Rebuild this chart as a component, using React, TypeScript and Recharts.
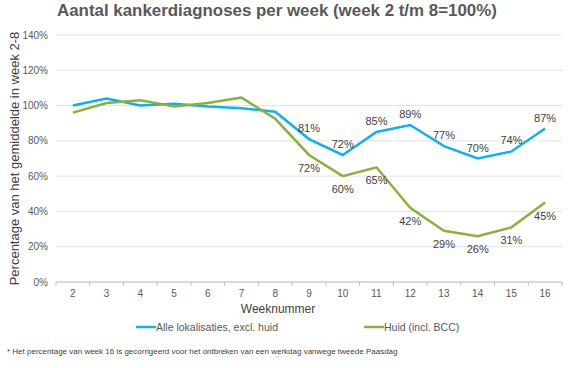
import React from 'react';
import { LineChart, Line, XAxis, YAxis, CartesianGrid, LabelList, Label } from 'recharts';

const weeks = [2, 3, 4, 5, 6, 7, 8, 9, 10, 11, 12, 13, 14, 15, 16];
const alleValues = [100, 104, 100, 101, 99.5, 98.5, 96.5, 81, 72, 85, 89, 77, 70, 74, 87];
const huidValues = [96, 101.5, 103, 99.5, 101.5, 104.5, 92.5, 72, 60, 65, 42, 29, 26, 31, 45];
const alleLabels = [null, null, null, null, null, null, null, '81%', '72%', '85%', '89%', '77%', '70%', '74%', '87%'];
const huidLabels = [null, null, null, null, null, null, null, '72%', '60%', '65%', '42%', '29%', '26%', '31%', '45%'];
const yTicks = [0, 20, 40, 60, 80, 100, 120, 140];

const seriesNames = { alle: 'Alle lokalisaties, excl. huid', huid: 'Huid (incl. BCC)' };
const BLUE = '#13b0e8';
const GREEN = '#8cb040';
const FONT = '"Liberation Sans", Arial, sans-serif';
const HALF_BAND = 506 / weeks.length / 2;

const data = weeks.map((w, i) => ({
  week: w,
  alle: alleValues[i],
  huid: huidValues[i],
  alleLabel: alleLabels[i],
  huidLabel: huidLabels[i],
}));

const renderLabel = (below: boolean) => (props: any) => {
  const { x, y, value } = props;
  if (value === null || value === undefined) return null;
  return (
    <text
      x={x}
      y={below ? y + 17 : y - 7}
      textAnchor="middle"
      fontSize={11}
      fontFamily={FONT}
      fill="#404040"
    >
      {value}
    </text>
  );
};

const XTick = (props: any) => {
  const { x, y, payload, index } = props;
  return (
    <g>
      <line x1={x - HALF_BAND} x2={x - HALF_BAND} y1={y} y2={y + 4} stroke="#bfbfbf" />
      {index === weeks.length - 1 && (
        <line x1={x + HALF_BAND} x2={x + HALF_BAND} y1={y} y2={y + 4} stroke="#bfbfbf" />
      )}
      <text x={x} y={y + 15} textAnchor="middle" fontSize={10} fontFamily={FONT} fill="#595959">
        {payload.value}
      </text>
    </g>
  );
};

export default function App() {
  return (
    <div style={{ position: 'absolute', left: 0, top: 0, width: 581, height: 368, background: '#fff', fontFamily: FONT }}>
      <div
        style={{
          position: 'absolute',
          left: 57,
          top: 1,
          fontSize: 16.9,
          fontWeight: 'bold',
          color: '#595959',
          whiteSpace: 'nowrap',
        }}
      >
        Aantal kankerdiagnoses per week (week 2 t/m 8=100%)
      </div>
      <LineChart
        width={581}
        height={368}
        data={data}
        margin={{ top: 35, right: 19, bottom: 52, left: 10 }}
      >
        <CartesianGrid vertical={false} stroke="#e3e3e3" />
        <XAxis
          dataKey="week"
          tick={<XTick />}
          tickLine={false}
          tickSize={0}
          tickMargin={0}
          axisLine={{ stroke: '#bfbfbf' }}
          interval={0}
          height={34}
          padding={{ left: HALF_BAND, right: HALF_BAND }}
        >
          <Label
            value="Weeknummer"
            position="insideBottom"
            offset={3}
            dx={-31}
            style={{ fontSize: 12, fill: '#404040', fontFamily: FONT }}
          />
        </XAxis>
        <YAxis
          domain={[0, 140]}
          ticks={yTicks}
          tickFormatter={(v: number) => `${v}%`}
          tick={{ fontSize: 10, fill: '#595959', fontFamily: FONT }}
          tickLine={false}
          axisLine={false}
          tickSize={0}
          tickMargin={8}
          width={46}
        >
          <Label
            value="Percentage van het gemiddelde in week 2-8"
            angle={-90}
            position="insideLeft"
            offset={4}
            style={{ fontSize: 13, fill: '#404040', fontFamily: FONT, textAnchor: 'middle' }}
          />
        </YAxis>
        <Line
          type="linear"
          dataKey="alle"
          name={seriesNames.alle}
          stroke={BLUE}
          strokeWidth={2.5}
          dot={false}
          activeDot={false}
          isAnimationActive={false}
        >
          <LabelList dataKey="alleLabel" content={renderLabel(false)} />
        </Line>
        <Line
          type="linear"
          dataKey="huid"
          name={seriesNames.huid}
          stroke={GREEN}
          strokeWidth={2.5}
          dot={false}
          activeDot={false}
          isAnimationActive={false}
        >
          <LabelList dataKey="huidLabel" content={renderLabel(true)} />
        </Line>
      </LineChart>
      <div
        style={{
          position: 'absolute',
          left: 136,
          top: 321,
          display: 'flex',
          fontSize: 10.5,
          color: '#595959',
          whiteSpace: 'nowrap',
        }}
      >
        <div style={{ display: 'flex', alignItems: 'center' }}>
          <svg width={20} height={4}><line x1={0} x2={20} y1={2} y2={2} stroke={BLUE} strokeWidth={2.5} /></svg>
          <span>{seriesNames.alle}</span>
        </div>
        <div style={{ display: 'flex', alignItems: 'center', marginLeft: 86 }}>
          <svg width={20} height={4}><line x1={0} x2={20} y1={2} y2={2} stroke={GREEN} strokeWidth={2.5} /></svg>
          <span>{seriesNames.huid}</span>
        </div>
      </div>
      <div
        style={{
          position: 'absolute',
          left: 7,
          top: 347,
          fontSize: 8,
          color: '#404040',
          whiteSpace: 'nowrap',
        }}
      >
        * Het percentage van week 16 is gecorrigeerd voor het ontbreken van een werkdag vanwege tweede Paasdag
      </div>
    </div>
  );
}
